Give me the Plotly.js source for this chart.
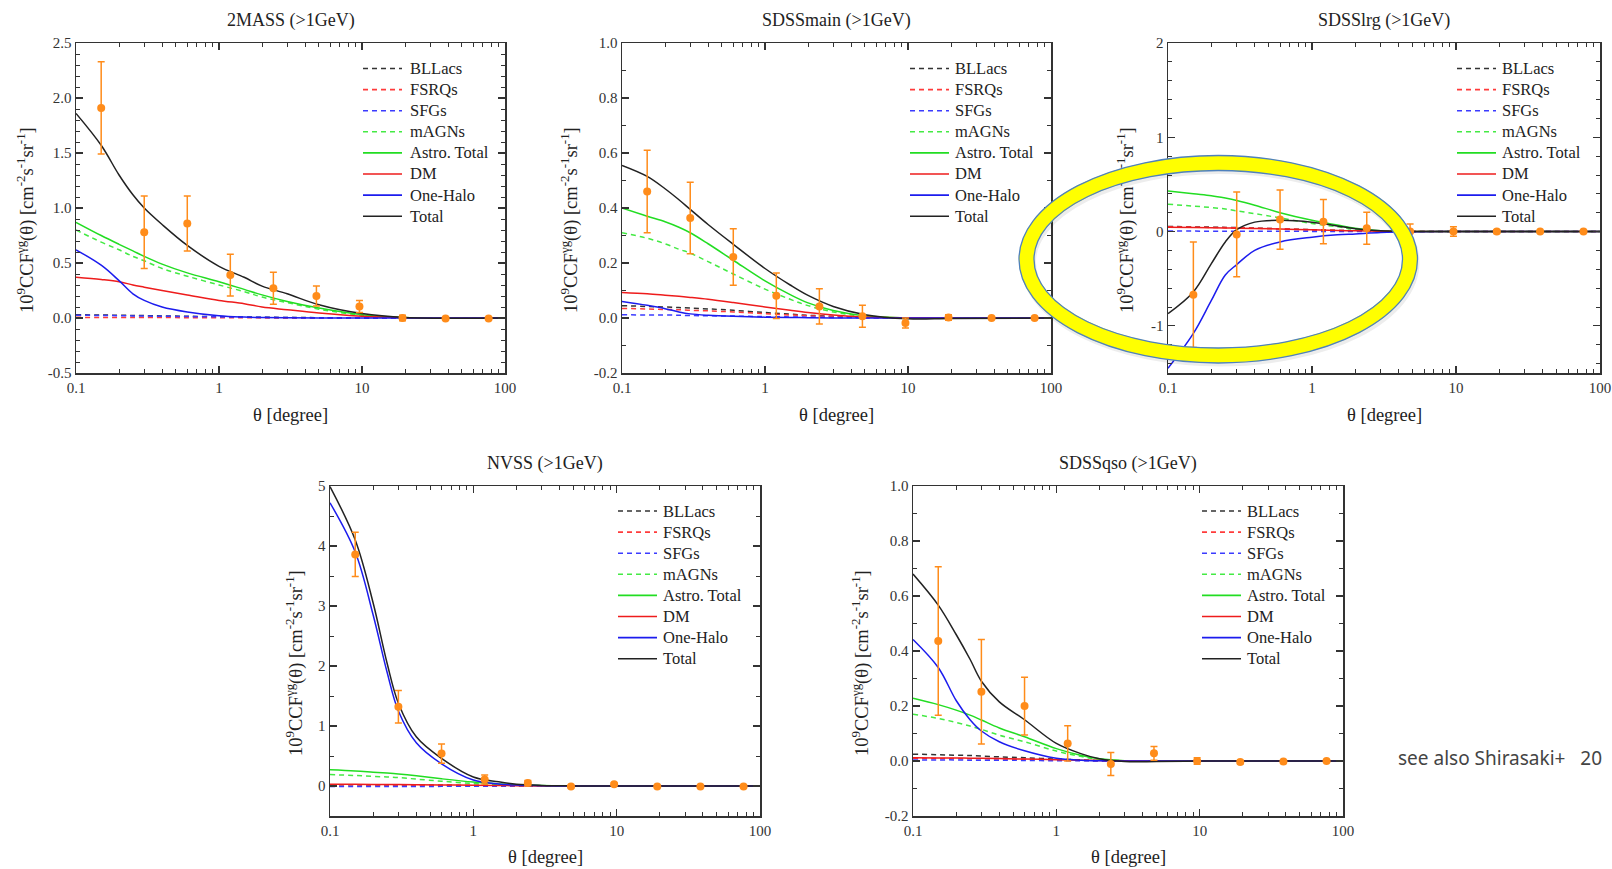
<!DOCTYPE html>
<html><head><meta charset="utf-8">
<script src="https://cdn.plot.ly/plotly-3.0.1.min.js"></script>
<style>html,body{margin:0;padding:0;background:#fff;overflow:hidden}
#wrap{position:relative;width:1612px;height:869px}
#chart,#ring{position:absolute;left:0;top:0;width:1612px;height:869px}
#ring{pointer-events:none}
</style></head><body>
<div id="wrap"><div id="chart"></div><div id="ring"></div></div>
<script>
// ---------------- data ----------------
const thetaModel = [0.1, 0.15, 0.2, 0.25, 0.3, 0.4, 0.6, 1, 1.5, 2, 3, 5, 10, 20, 100];
const thetaData  = [0.15, 0.3, 0.6, 1.2, 2.4, 4.8, 9.6, 19.2, 38.4, 76.8];
const seriesNames = ['BLLacs','FSRQs','SFGs','mAGNs','Astro. Total','DM','One-Halo','Total'];
const panelTitles = ['2MASS (>1GeV)','SDSSmain (>1GeV)','SDSSlrg (>1GeV)','NVSS (>1GeV)','SDSSqso (>1GeV)'];
const xTitle = 'θ [degree]';
const yTitle = '10<sup>9</sup>CCF<sup>γg</sup>(θ) [cm<sup>-2</sup>s<sup>-1</sup>sr<sup>-1</sup>]';
const noteText = 'see also Shirasaki+\u00a0\u00a0\u00a020';

// 2MASS
const twomass_BLLacs = [0.030,0.027,0.025,0.023,0.022,0.019,0.016,0.012,0.009,0.007,0.005,0.003,0.001,0,0];
const twomass_FSRQs  = [0.006,0.005,0.005,0.004,0.004,0.004,0.003,0.002,0.002,0.001,0.001,0.0005,0,0,0];
const twomass_SFGs   = [0.025,0.023,0.021,0.019,0.018,0.016,0.013,0.010,0.008,0.006,0.004,0.002,0.001,0,0];
const twomass_mAGNs  = [0.80,0.69,0.62,0.56,0.52,0.45,0.38,0.30,0.24,0.19,0.14,0.08,0.025,0.003,0];
const twomass_Astro  = [0.87,0.75,0.67,0.61,0.56,0.49,0.41,0.33,0.26,0.21,0.15,0.09,0.03,0.004,0];
const twomass_DM     = [0.37,0.35,0.33,0.30,0.28,0.25,0.21,0.16,0.13,0.10,0.075,0.045,0.015,0.003,0];
const twomass_OneHalo= [0.62,0.48,0.34,0.22,0.16,0.10,0.055,0.02,0.008,0.004,0.002,0.001,0,0,0];
const twomass_Total  = [1.86,1.57,1.30,1.12,1.00,0.85,0.66,0.47,0.37,0.29,0.22,0.12,0.04,0.005,0];
const twomass_data   = [1.91,0.78,0.86,0.39,0.27,0.20,0.105,0.0,-0.005,-0.005];
const twomass_err    = [0.42,0.33,0.25,0.19,0.145,0.09,0.055,0.025,0.008,0.005];

// SDSSmain
const sdssmain_BLLacs = [0.045,0.042,0.040,0.038,0.036,0.033,0.028,0.020,0.014,0.010,0.006,0.002,0,0,0];
const sdssmain_FSRQs  = [0.035,0.033,0.031,0.030,0.028,0.026,0.022,0.016,0.011,0.008,0.005,0.002,0,0,0];
const sdssmain_SFGs   = [0.012,0.011,0.011,0.010,0.009,0.008,0.007,0.005,0.004,0.003,0.002,0.001,0,0,0];
const sdssmain_mAGNs  = [0.31,0.29,0.27,0.25,0.236,0.205,0.16,0.105,0.068,0.045,0.022,0.006,0,0,0];
const sdssmain_Astro  = [0.40,0.37,0.35,0.33,0.31,0.27,0.21,0.135,0.085,0.055,0.027,0.008,0,0,0];
const sdssmain_DM     = [0.093,0.088,0.083,0.079,0.075,0.068,0.056,0.040,0.028,0.020,0.011,0.004,0.001,0,0];
const sdssmain_OneHalo= [0.060,0.046,0.034,0.022,0.015,0.010,0.006,0.003,0.002,0.001,0,0,0,0,0];
const sdssmain_Total  = [0.555,0.515,0.47,0.43,0.395,0.34,0.268,0.18,0.12,0.082,0.042,0.012,-0.003,-0.002,0];
const sdssmain_data   = [0.46,0.364,0.222,0.081,0.042,0.006,-0.018,0.002,0.0,0.0];
const sdssmain_err    = [0.15,0.13,0.103,0.083,0.064,0.04,0.018,0.01,0.004,0.003];

// SDSSlrg
const sdsslrg_BLLacs = [0.055,0.050,0.047,0.044,0.042,0.037,0.030,0.020,0.013,0.009,0.004,0.001,0,0,0];
const sdsslrg_FSRQs  = [0.050,0.047,0.044,0.042,0.040,0.036,0.029,0.019,0.012,0.008,0.004,0.001,0,0,0];
const sdsslrg_SFGs   = [0.005,0.005,0.004,0.004,0.004,0.003,0.003,0.002,0.001,0.001,0,0,0,0,0];
const sdsslrg_mAGNs  = [0.29,0.27,0.255,0.24,0.22,0.19,0.145,0.085,0.05,0.022,0.006,0.001,0,0,0];
const sdsslrg_Astro  = [0.43,0.40,0.38,0.355,0.33,0.28,0.20,0.12,0.07,0.035,0.01,0.001,0,0,0];
const sdsslrg_DM     = [0.045,0.042,0.040,0.038,0.036,0.033,0.027,0.018,0.012,0.008,0.004,0.001,0,0,0];
const sdsslrg_OneHalo= [-1.45,-1.08,-0.73,-0.46,-0.35,-0.20,-0.11,-0.06,-0.035,-0.025,-0.01,-0.002,0,0,0];
const sdsslrg_Total  = [-0.87,-0.64,-0.34,-0.11,0.02,0.10,0.12,0.10,0.06,0.03,0.008,0.001,0,0,0];
const sdsslrg_data   = [-0.67,-0.03,0.127,0.105,0.035,0.0,0.0,0.0,0.0,0.0];
const sdsslrg_err    = [0.56,0.45,0.315,0.235,0.17,0.08,0.05,0.02,0.01,0.008];

// NVSS
const nvss_BLLacs = [0.02,0.019,0.018,0.017,0.016,0.014,0.012,0.008,0.005,0.003,0.001,0,0,0,0];
const nvss_FSRQs  = [0.02,0.019,0.018,0.017,0.016,0.014,0.012,0.008,0.005,0.003,0.001,0,0,0,0];
const nvss_SFGs   = [-0.01,-0.01,-0.01,-0.009,-0.009,-0.008,-0.006,-0.004,-0.003,-0.002,-0.001,0,0,0,0];
const nvss_mAGNs  = [0.19,0.175,0.16,0.15,0.14,0.115,0.08,0.042,0.022,0.012,0.004,0.001,0,0,0];
const nvss_Astro  = [0.27,0.25,0.23,0.215,0.20,0.17,0.12,0.065,0.035,0.02,0.007,0.002,0,0,0];
const nvss_DM     = [0.03,0.028,0.027,0.025,0.024,0.022,0.018,0.012,0.008,0.005,0.002,0.001,0,0,0];
const nvss_OneHalo= [4.72,3.90,2.85,1.90,1.25,0.72,0.37,0.10,0.035,0.015,0.004,0.001,0,0,0];
const nvss_Total  = [4.99,4.10,3.05,2.05,1.38,0.82,0.46,0.15,0.07,0.03,0.01,0.002,0,0,0];
const nvss_data   = [3.86,1.32,0.54,0.11,0.05,-0.01,0.03,-0.01,-0.01,-0.01];
const nvss_err    = [0.37,0.27,0.16,0.075,0.04,0.02,0.02,0.01,0.01,0.01];

// SDSSqso
const sdssqso_BLLacs = [0.025,0.023,0.021,0.020,0.018,0.015,0.012,0.007,0.004,0.002,0.001,0,0,0,0];
const sdssqso_FSRQs  = [0.010,0.009,0.009,0.008,0.008,0.007,0.006,0.004,0.002,0.001,0,0,0,0,0];
const sdssqso_SFGs   = [0.004,0.004,0.004,0.003,0.003,0.003,0.002,0.001,0.001,0,0,0,0,0,0];
const sdssqso_mAGNs  = [0.17,0.155,0.14,0.127,0.115,0.094,0.07,0.036,0.016,0.006,0.001,0,0,0,0];
const sdssqso_Astro  = [0.228,0.205,0.185,0.167,0.149,0.12,0.088,0.045,0.02,0.008,0.001,0,0,0,0];
const sdssqso_DM     = [0.012,0.011,0.011,0.010,0.010,0.009,0.007,0.005,0.003,0.002,0.001,0,0,0,0];
const sdssqso_OneHalo= [0.442,0.34,0.22,0.15,0.109,0.07,0.037,0.01,0.003,0.001,0,0,0,0,0];
const sdssqso_Total  = [0.68,0.567,0.46,0.37,0.29,0.215,0.15,0.064,0.026,0.008,-0.002,-0.002,0,0,0];
const sdssqso_data   = [0.436,0.252,0.2,0.064,-0.011,0.028,0.0,-0.004,-0.002,0.0];
const sdssqso_err    = [0.27,0.19,0.105,0.064,0.042,0.025,0.012,0.006,0.004,0.003];

// y-axis ticks
const yTicks1 = [-0.5,0,0.5,1,1.5,2,2.5]; const yText1 = ['-0.5','0.0','0.5','1.0','1.5','2.0','2.5'];
const yTicks2 = [-0.2,0,0.2,0.4,0.6,0.8,1.0]; const yText2 = ['-0.2','0.0','0.2','0.4','0.6','0.8','1.0'];
const yTicks3 = [-1,0,1,2]; const yText3 = ['-1','0','1','2'];
const yTicks4 = [0,1,2,3,4,5]; const yText4 = ['0','1','2','3','4','5'];
const yTicks5 = [-0.2,0,0.2,0.4,0.6,0.8,1.0]; const yText5 = ['-0.2','0.0','0.2','0.4','0.6','0.8','1.0'];

// ---------------- styling / layout ----------------
const W = 1612, H = 869;
const px = v => v / W, py = v => 1 - v / H;
const SERIF = 'Liberation Serif, Times New Roman, serif';
const ORANGE = '#ff8c1a';
const seriesStyles = [
  {color:'#333333', dash:'5px,4px'},
  {color:'#ff3b3b', dash:'5px,4px'},
  {color:'#3b3bff', dash:'5px,4px'},
  {color:'#44ea44', dash:'5px,4px'},
  {color:'#22dd22', dash:'solid'},
  {color:'#ee1c1c', dash:'solid'},
  {color:'#1c1cee', dash:'solid'},
  {color:'#222222', dash:'solid'}
];
// legend layout: [line start x, text x, first row y] in page pixels
const panels = [
  {models:[twomass_BLLacs,twomass_FSRQs,twomass_SFGs,twomass_mAGNs,twomass_Astro,twomass_DM,twomass_OneHalo,twomass_Total],
   data:twomass_data, err:twomass_err, yr:[-0.5,2.5], yt:yTicks1, ytx:yText1, minor:0.1,
   box:[76,505,43,373], leg:[363,408,68.5], ytitleX:25},
  {models:[sdssmain_BLLacs,sdssmain_FSRQs,sdssmain_SFGs,sdssmain_mAGNs,sdssmain_Astro,sdssmain_DM,sdssmain_OneHalo,sdssmain_Total],
   data:sdssmain_data, err:sdssmain_err, yr:[-0.2,1.0], yt:yTicks2, ytx:yText2, minor:0.1,
   box:[622,1051,43,373], leg:[910,953,68.5], ytitleX:569},
  {models:[sdsslrg_BLLacs,sdsslrg_FSRQs,sdsslrg_SFGs,sdsslrg_mAGNs,sdsslrg_Astro,sdsslrg_DM,sdsslrg_OneHalo,sdsslrg_Total],
   data:sdsslrg_data, err:sdsslrg_err, yr:[-1.5,2], yt:yTicks3, ytx:yText3, minor:0.2,
   box:[1168,1600,43,373], leg:[1457,1500,68.5], ytitleX:1125},
  {models:[nvss_BLLacs,nvss_FSRQs,nvss_SFGs,nvss_mAGNs,nvss_Astro,nvss_DM,nvss_OneHalo,nvss_Total],
   data:nvss_data, err:nvss_err, yr:[-0.5,5], yt:yTicks4, ytx:yText4, minor:0.5,
   box:[330,760,486,816], leg:[618,661,511], ytitleX:294},
  {models:[sdssqso_BLLacs,sdssqso_FSRQs,sdssqso_SFGs,sdssqso_mAGNs,sdssqso_Astro,sdssqso_DM,sdssqso_OneHalo,sdssqso_Total],
   data:sdssqso_data, err:sdssqso_err, yr:[-0.2,1.0], yt:yTicks5, ytx:yText5, minor:0.1,
   box:[913,1343,486,816], leg:[1202,1245,511], ytitleX:860}
];
const LEG_ROW = 21.1, LEG_LINE = 39;

const traces = [];
const layout = {
  width:W, height:H, margin:{l:0,r:0,t:0,b:0},
  paper_bgcolor:'#fff', plot_bgcolor:'#fff', showlegend:false,
  font:{family:SERIF, color:'#222'},
  annotations:[], shapes:[]
};
const axisLine = {showline:true, linecolor:'#333', linewidth:1.5, mirror:'ticks', showgrid:false, zeroline:false,
  ticks:'inside', ticklen:7, tickwidth:1.2, tickcolor:'#333', tickfont:{family:SERIF, size:15, color:'#333'}};

panels.forEach((p, i) => {
  const s = i === 0 ? '' : String(i + 1);
  p.models.forEach((vals, k) => {
    traces.push({
      x: thetaModel, y: vals, type:'scatter', mode:'lines', name: seriesNames[k],
      xaxis:'x' + s, yaxis:'y' + s,
      line:{color: seriesStyles[k].color, width:1.5, dash: seriesStyles[k].dash, shape:'spline', smoothing:1}
    });
    // legend entry (sample line + label)
    const ly = p.leg[2] + k * LEG_ROW;
    layout.shapes.push({type:'line', xref:'paper', yref:'paper',
      x0:px(p.leg[0]), x1:px(p.leg[0] + LEG_LINE), y0:py(ly), y1:py(ly),
      line:{color: seriesStyles[k].color, width:1.6, dash: seriesStyles[k].dash}});
    layout.annotations.push({text: seriesNames[k], x:px(p.leg[1]), y:py(ly), xref:'paper', yref:'paper',
      showarrow:false, xanchor:'left', yanchor:'middle', font:{family:SERIF, size:16.5, color:'#222'}});
  });
  traces.push({
    x: thetaData, y: p.data, type:'scatter', mode:'markers', name:'data',
    xaxis:'x' + s, yaxis:'y' + s,
    marker:{color: ORANGE, size:8},
    error_y:{type:'data', array:p.err, visible:true, color:ORANGE, thickness:1.5, width:3.5}
  });
  const b = p.box;
  layout['xaxis' + s] = Object.assign({}, axisLine, {
    type:'log', range:[-1, 2], dtick:1, domain:[px(b[0]), px(b[1])], anchor:'y' + s,
    minor:{ticks:'inside', ticklen:4, tickwidth:1, tickcolor:'#333', dtick:'D1', showgrid:false}
  });
  layout['yaxis' + s] = Object.assign({}, axisLine, {
    range:p.yr, tickmode:'array', tickvals:p.yt, ticktext:p.ytx,
    domain:[py(b[3]), py(b[2])], anchor:'x' + s,
    minor:{ticks:'inside', ticklen:4, tickwidth:1, tickcolor:'#333', tickmode:'linear', tick0:0, dtick:p.minor, showgrid:false}
  });
  const cx = (b[0] + b[1]) / 2;
  const titleY = i < 3 ? 21 : 463;
  const xtY = i < 3 ? 415 : 857;
  layout.annotations.push(
    {text: panelTitles[i], x: px(cx), y: py(titleY), xref:'paper', yref:'paper', showarrow:false,
     xanchor:'center', yanchor:'middle', font:{family:SERIF, size:18, color:'#222'}},
    {text: xTitle, x: px(cx), y: py(xtY), xref:'paper', yref:'paper', showarrow:false,
     xanchor:'center', yanchor:'middle', font:{family:SERIF, size:18.5, color:'#222'}},
    {text: yTitle, x: px(p.ytitleX), y: py((b[2] + b[3]) / 2 + 12), xref:'paper', yref:'paper', showarrow:false,
     textangle:-90, xanchor:'center', yanchor:'middle', font:{family:SERIF, size:18.5, color:'#222'}}
  );
});
layout.annotations.push({text: noteText, x: px(1396), y: py(758), xref:'paper', yref:'paper', showarrow:false,
  xanchor:'left', yanchor:'middle', font:{family:'Noto Sans, sans-serif', size:19, color:'#444'}});

Plotly.newPlot('chart', traces, layout, {staticPlot:true});

// ------------- highlight ring (overlay) -------------
const ringLayout = {
  width:W, height:H, margin:{l:0,r:0,t:0,b:0},
  paper_bgcolor:'rgba(0,0,0,0)', plot_bgcolor:'rgba(0,0,0,0)',
  xaxis:{visible:false}, yaxis:{visible:false}, showlegend:false,
  shapes:[
    {type:'circle', xref:'paper', yref:'paper', x0:px(1028), x1:px(1411.5), y0:py(166), y1:py(358.5),
     line:{color:'rgba(0,0,0,0.07)', width:16}},
    {type:'circle', xref:'paper', yref:'paper', x0:px(1026.5), x1:px(1410), y0:py(163), y1:py(355.5),
     line:{color:'#ffff00', width:15}},
    {type:'circle', xref:'paper', yref:'paper', x0:px(1019), x1:px(1417.5), y0:py(155.5), y1:py(363),
     line:{color:'#4f81bd', width:1.3}},
    {type:'circle', xref:'paper', yref:'paper', x0:px(1034), x1:px(1402.5), y0:py(170.5), y1:py(348),
     line:{color:'#4f81bd', width:1.3}}
  ]
};
Plotly.newPlot('ring', [], ringLayout, {staticPlot:true});
</script></body></html>
